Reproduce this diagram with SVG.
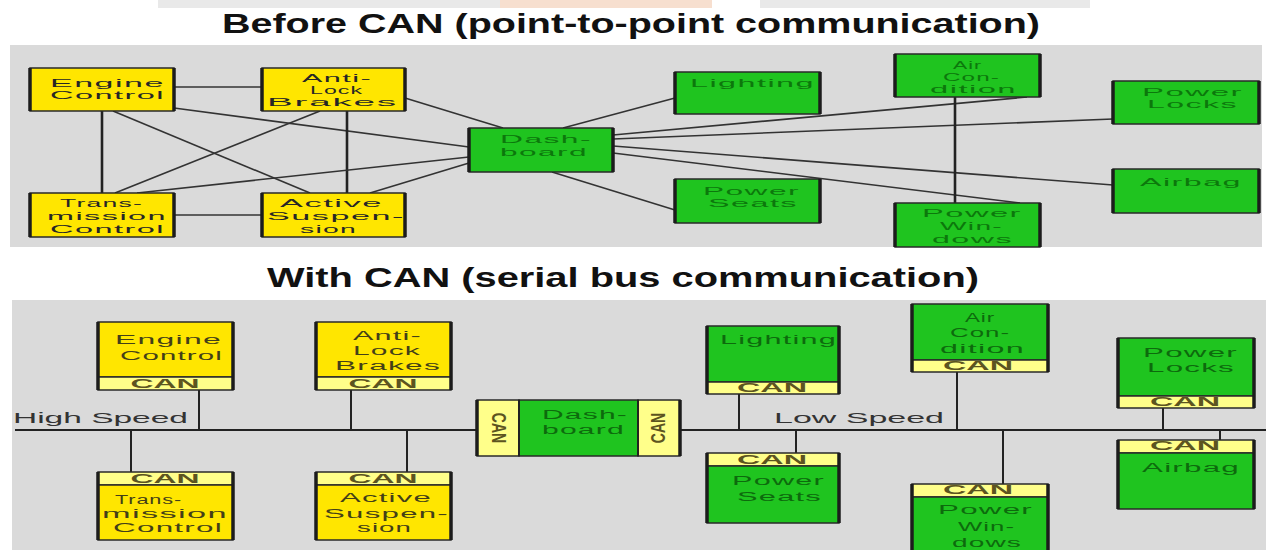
<svg xmlns="http://www.w3.org/2000/svg" width="1266" height="550" viewBox="0 0 1266 550">
<style>
text{font-family:"Liberation Sans",Arial,sans-serif}
.title{font-size:28px;font-weight:bold;fill:#111}
.t{font-size:12.5px;letter-spacing:0.5px;dominant-baseline:central}
.s{font-size:11px}
.ty{fill:#262626}
.tg{fill:#0c780c}
.by{fill:#433f18}
.bg{fill:#0d6a0d}
.cant{font-size:12.5px;font-weight:bold;fill:#5c5420;dominant-baseline:central;text-anchor:middle}
.spd{font-size:14px;fill:#333;dominant-baseline:central}
.yb{fill:#ffe600;stroke:#2a2a2a;stroke-width:1.5}
.gb{fill:#1fc41f;stroke:#2a2a2a;stroke-width:1.5}
.cs{fill:#ffff8a;stroke:#2a2a2a;stroke-width:1.5}
.side{fill:none;stroke:#1c1c1c;stroke-width:3.5}
.ln{fill:none;stroke:#333;stroke-width:1.6}
.lnv{fill:none;stroke:#222;stroke-width:2.6}
.bus{fill:none;stroke:#222;stroke-width:2}
</style>
<rect width="1266" height="550" fill="#ffffff"/>
<!-- faint watermark band -->
<rect x="158" y="0" width="342" height="8" fill="#e9e9e9"/>
<rect x="500" y="0" width="212" height="8" fill="#f7dfcf"/>
<rect x="760" y="0" width="330" height="8" fill="#e9e9e9"/>
<!-- panels -->
<rect x="10" y="45" width="1252" height="202" fill="#dadada"/>
<rect x="12" y="300" width="1254" height="250" fill="#dadada"/>
<text class="title" x="222" y="33" textLength="818" lengthAdjust="spacingAndGlyphs">Before CAN (point-to-point  communication)</text>
<text class="title" x="267" y="287" textLength="712" lengthAdjust="spacingAndGlyphs">With CAN (serial bus communication)</text>

<g id="connectors-top">
<path class="ln" d="M174,87 L262,87"/>
<path class="lnv" d="M102,111 L102,193"/>
<path class="ln" d="M113,111 L310,193"/>
<path class="ln" d="M174,108 L469,147"/>
<path class="ln" d="M320,111 L115,193"/>
<path class="lnv" d="M347,111 L347,193"/>
<path class="ln" d="M405,98 L503,128"/>
<path class="ln" d="M137,193 L469,157"/>
<path class="ln" d="M370,193 L469,163"/>
<path class="ln" d="M174,215 L262,215"/>
<path class="ln" d="M563,128 L675,98"/>
<path class="ln" d="M552,172 L675,210"/>
<path class="ln" d="M613,135 L1027,97"/>
<path class="ln" d="M613,139 L1113,119"/>
<path class="ln" d="M613,146 L1113,185"/>
<path class="ln" d="M613,153 L1020,203"/>
<path class="lnv" d="M955,97 L955,203"/>
</g>

<g id="top-engine">
<rect class="yb" x="30" y="68" width="144" height="43"/><path class="side" d="M30,68 v43 M174,68 v43"/>
<text class="t s ty" x="50" y="83" textLength="115" lengthAdjust="spacingAndGlyphs">Engine</text>
<text class="t s ty" x="50" y="95" textLength="115" lengthAdjust="spacingAndGlyphs">Control</text>
</g>
<g id="top-abs">
<rect class="yb" x="262" y="68" width="143" height="43"/><path class="side" d="M262,68 v43 M405,68 v43"/>
<text class="t s ty" x="302" y="78" textLength="70" lengthAdjust="spacingAndGlyphs">Anti-</text>
<text class="t s ty" x="310" y="90" textLength="53" lengthAdjust="spacingAndGlyphs">Lock</text>
<text class="t s ty" x="267" y="102" textLength="131" lengthAdjust="spacingAndGlyphs">Brakes</text>
</g>
<g id="top-trans">
<rect class="yb" x="30" y="193" width="144" height="44"/><path class="side" d="M30,193 v44 M174,193 v44"/>
<text class="t s ty" x="60" y="203" textLength="83" lengthAdjust="spacingAndGlyphs">Trans-</text>
<text class="t s ty" x="47" y="216" textLength="120" lengthAdjust="spacingAndGlyphs">mission</text>
<text class="t s ty" x="50" y="229" textLength="115" lengthAdjust="spacingAndGlyphs">Control</text>
</g>
<g id="top-susp">
<rect class="yb" x="262" y="193" width="143" height="44"/><path class="side" d="M262,193 v44 M405,193 v44"/>
<text class="t s ty" x="280" y="203" textLength="103" lengthAdjust="spacingAndGlyphs">Active</text>
<text class="t s ty" x="267" y="216" textLength="138" lengthAdjust="spacingAndGlyphs">Suspen-</text>
<text class="t s ty" x="300" y="229" textLength="57" lengthAdjust="spacingAndGlyphs">sion</text>
</g>
<g id="top-dash">
<rect class="gb" x="469" y="128" width="144" height="44"/><path class="side" d="M469,128 v44 M613,128 v44"/>
<text class="t s tg" x="500" y="139" textLength="92" lengthAdjust="spacingAndGlyphs">Dash-</text>
<text class="t s tg" x="500" y="152" textLength="88" lengthAdjust="spacingAndGlyphs">board</text>
</g>
<g id="top-lighting">
<rect class="gb" x="675" y="72" width="145" height="42"/><path class="side" d="M675,72 v42 M820,72 v42"/>
<text class="t s tg" x="690" y="83" textLength="125" lengthAdjust="spacingAndGlyphs">Lighting</text>
</g>
<g id="top-seats">
<rect class="gb" x="675" y="179" width="145" height="44"/><path class="side" d="M675,179 v44 M820,179 v44"/>
<text class="t s tg" x="703" y="191" textLength="97" lengthAdjust="spacingAndGlyphs">Power</text>
<text class="t s tg" x="708" y="203" textLength="90" lengthAdjust="spacingAndGlyphs">Seats</text>
</g>
<g id="top-aircon">
<rect class="gb" x="895" y="54" width="145" height="43"/><path class="side" d="M895,54 v43 M1040,54 v43"/>
<text class="t s tg" x="953" y="65" textLength="29" lengthAdjust="spacingAndGlyphs">Air</text>
<text class="t s tg" x="943" y="77" textLength="57" lengthAdjust="spacingAndGlyphs">Con-</text>
<text class="t s tg" x="930" y="89" textLength="87" lengthAdjust="spacingAndGlyphs">dition</text>
</g>
<g id="top-locks">
<rect class="gb" x="1113" y="81" width="146" height="43"/><path class="side" d="M1113,81 v43 M1259,81 v43"/>
<text class="t s tg" x="1142" y="92" textLength="101" lengthAdjust="spacingAndGlyphs">Power</text>
<text class="t s tg" x="1147" y="104" textLength="91" lengthAdjust="spacingAndGlyphs">Locks</text>
</g>
<g id="top-airbag">
<rect class="gb" x="1113" y="169" width="146" height="44"/><path class="side" d="M1113,169 v44 M1259,169 v44"/>
<text class="t s tg" x="1140" y="182" textLength="102" lengthAdjust="spacingAndGlyphs">Airbag</text>
</g>
<g id="top-windows">
<rect class="gb" x="895" y="203" width="145" height="44"/><path class="side" d="M895,203 v44 M1040,203 v44"/>
<text class="t s tg" x="922" y="213" textLength="100" lengthAdjust="spacingAndGlyphs">Power</text>
<text class="t s tg" x="940" y="226" textLength="63" lengthAdjust="spacingAndGlyphs">Win-</text>
<text class="t s tg" x="932" y="239" textLength="81" lengthAdjust="spacingAndGlyphs">dows</text>
</g>

<g id="connectors-bus">
<path class="bus" d="M15,430 H477"/>
<path class="bus" d="M680,430 H1266"/>
<path class="bus" d="M199,390 V430 M351,390 V430 M131,430 V472 M407,430 V472"/>
<path class="bus" d="M739,394 V430 M796,430 V453 M957,372 V430 M1003,430 V484 M1163,408 V430 M1220,430 V440"/>
<text class="spd" x="13" y="418" textLength="175" lengthAdjust="spacingAndGlyphs">High Speed</text>
<text class="spd" x="774" y="418" textLength="170" lengthAdjust="spacingAndGlyphs">Low Speed</text>
</g>

<g id="bus-engine">
<rect class="yb" x="98" y="322" width="135" height="55"/>
<rect class="cs" x="98" y="377" width="135" height="13"/>
<path class="side" d="M98,322 v68 M233,322 v68"/>
<text class="t by" x="115" y="340" textLength="107" lengthAdjust="spacingAndGlyphs">Engine</text>
<text class="t by" x="120" y="356" textLength="103" lengthAdjust="spacingAndGlyphs">Control</text>
<text class="cant" x="165" y="384" textLength="69" lengthAdjust="spacingAndGlyphs">CAN</text>
</g>
<g id="bus-abs">
<rect class="yb" x="316" y="322" width="135" height="55"/>
<rect class="cs" x="316" y="377" width="135" height="13"/>
<path class="side" d="M316,322 v68 M451,322 v68"/>
<text class="t by" x="353" y="336" textLength="69" lengthAdjust="spacingAndGlyphs">Anti-</text>
<text class="t by" x="353" y="351" textLength="68" lengthAdjust="spacingAndGlyphs">Lock</text>
<text class="t by" x="335" y="366" textLength="106" lengthAdjust="spacingAndGlyphs">Brakes</text>
<text class="cant" x="383" y="384" textLength="69" lengthAdjust="spacingAndGlyphs">CAN</text>
</g>
<g id="bus-trans">
<rect class="cs" x="98" y="472" width="135" height="13"/>
<rect class="yb" x="98" y="485" width="135" height="55"/>
<path class="side" d="M98,472 v68 M233,472 v68"/>
<text class="cant" x="165" y="479" textLength="69" lengthAdjust="spacingAndGlyphs">CAN</text>
<text class="t by" x="115" y="500" textLength="67" lengthAdjust="spacingAndGlyphs">Trans-</text>
<text class="t by" x="102" y="514" textLength="126" lengthAdjust="spacingAndGlyphs">mission</text>
<text class="t by" x="113" y="528" textLength="110" lengthAdjust="spacingAndGlyphs">Control</text>
</g>
<g id="bus-susp">
<rect class="cs" x="316" y="472" width="135" height="13"/>
<rect class="yb" x="316" y="485" width="135" height="55"/>
<path class="side" d="M316,472 v68 M451,472 v68"/>
<text class="cant" x="383" y="479" textLength="69" lengthAdjust="spacingAndGlyphs">CAN</text>
<text class="t by" x="340" y="498" textLength="92" lengthAdjust="spacingAndGlyphs">Active</text>
<text class="t by" x="324" y="514" textLength="125" lengthAdjust="spacingAndGlyphs">Suspen-</text>
<text class="t by" x="357" y="528" textLength="55" lengthAdjust="spacingAndGlyphs">sion</text>
</g>
<g id="bus-dash">
<rect class="cs" x="477" y="400" width="42" height="56"/>
<rect class="gb" x="519" y="400" width="119" height="56"/>
<rect class="cs" x="638" y="400" width="42" height="56"/>
<path class="side" d="M477,400 v56 M680,400 v56"/>
<path class="bus" d="M519,400 v56 M638,400 v56"/>
<text class="t bg" x="542" y="415" textLength="86" lengthAdjust="spacingAndGlyphs">Dash-</text>
<text class="t bg" x="542" y="430" textLength="83" lengthAdjust="spacingAndGlyphs">board</text>
<text transform="translate(498,428) scale(1.4,1) rotate(90)" style="font-size:14px;font-weight:bold;fill:#5c5420;text-anchor:middle;dominant-baseline:central">CAN</text>
<text transform="translate(659,428) scale(1.4,1) rotate(-90)" style="font-size:14px;font-weight:bold;fill:#5c5420;text-anchor:middle;dominant-baseline:central">CAN</text>
</g>
<g id="bus-lighting">
<rect class="gb" x="707" y="326" width="132" height="56"/>
<rect class="cs" x="707" y="382" width="132" height="12"/>
<path class="side" d="M707,326 v68 M839,326 v68"/>
<text class="t bg" x="720" y="340" textLength="117" lengthAdjust="spacingAndGlyphs">Lighting</text>
<text class="cant" x="772" y="388" textLength="70" lengthAdjust="spacingAndGlyphs">CAN</text>
</g>
<g id="bus-seats">
<rect class="cs" x="707" y="453" width="132" height="13"/>
<rect class="gb" x="707" y="466" width="132" height="57"/>
<path class="side" d="M707,453 v70 M839,453 v70"/>
<text class="cant" x="772" y="460" textLength="70" lengthAdjust="spacingAndGlyphs">CAN</text>
<text class="t bg" x="732" y="481" textLength="93" lengthAdjust="spacingAndGlyphs">Power</text>
<text class="t bg" x="737" y="497" textLength="85" lengthAdjust="spacingAndGlyphs">Seats</text>
</g>
<g id="bus-aircon">
<rect class="gb" x="912" y="304" width="136" height="56"/>
<rect class="cs" x="912" y="360" width="136" height="12"/>
<path class="side" d="M912,304 v68 M1048,304 v68"/>
<text class="t bg" x="965" y="318" textLength="30" lengthAdjust="spacingAndGlyphs">Air</text>
<text class="t bg" x="950" y="333" textLength="60" lengthAdjust="spacingAndGlyphs">Con-</text>
<text class="t bg" x="940" y="349" textLength="85" lengthAdjust="spacingAndGlyphs">dition</text>
<text class="cant" x="978" y="366" textLength="70" lengthAdjust="spacingAndGlyphs">CAN</text>
</g>
<g id="bus-windows">
<rect class="cs" x="912" y="484" width="136" height="13"/>
<rect class="gb" x="912" y="497" width="136" height="60"/>
<path class="side" d="M912,484 v73 M1048,484 v73"/>
<text class="cant" x="978" y="490" textLength="70" lengthAdjust="spacingAndGlyphs">CAN</text>
<text class="t bg" x="938" y="510" textLength="95" lengthAdjust="spacingAndGlyphs">Power</text>
<text class="t bg" x="958" y="527" textLength="57" lengthAdjust="spacingAndGlyphs">Win-</text>
<text class="t bg" x="952" y="543" textLength="70" lengthAdjust="spacingAndGlyphs">dows</text>
</g>
<g id="bus-locks">
<rect class="gb" x="1118" y="338" width="136" height="58"/>
<rect class="cs" x="1118" y="396" width="136" height="12"/>
<path class="side" d="M1118,338 v70 M1254,338 v70"/>
<text class="t bg" x="1143" y="353" textLength="95" lengthAdjust="spacingAndGlyphs">Power</text>
<text class="t bg" x="1147" y="368" textLength="88" lengthAdjust="spacingAndGlyphs">Locks</text>
<text class="cant" x="1185" y="402" textLength="70" lengthAdjust="spacingAndGlyphs">CAN</text>
</g>
<g id="bus-airbag">
<rect class="cs" x="1118" y="440" width="136" height="13"/>
<rect class="gb" x="1118" y="453" width="136" height="56"/>
<path class="side" d="M1118,440 v69 M1254,440 v69"/>
<text class="cant" x="1185" y="446" textLength="70" lengthAdjust="spacingAndGlyphs">CAN</text>
<text class="t bg" x="1142" y="468" textLength="98" lengthAdjust="spacingAndGlyphs">Airbag</text>
</g>
</svg>
